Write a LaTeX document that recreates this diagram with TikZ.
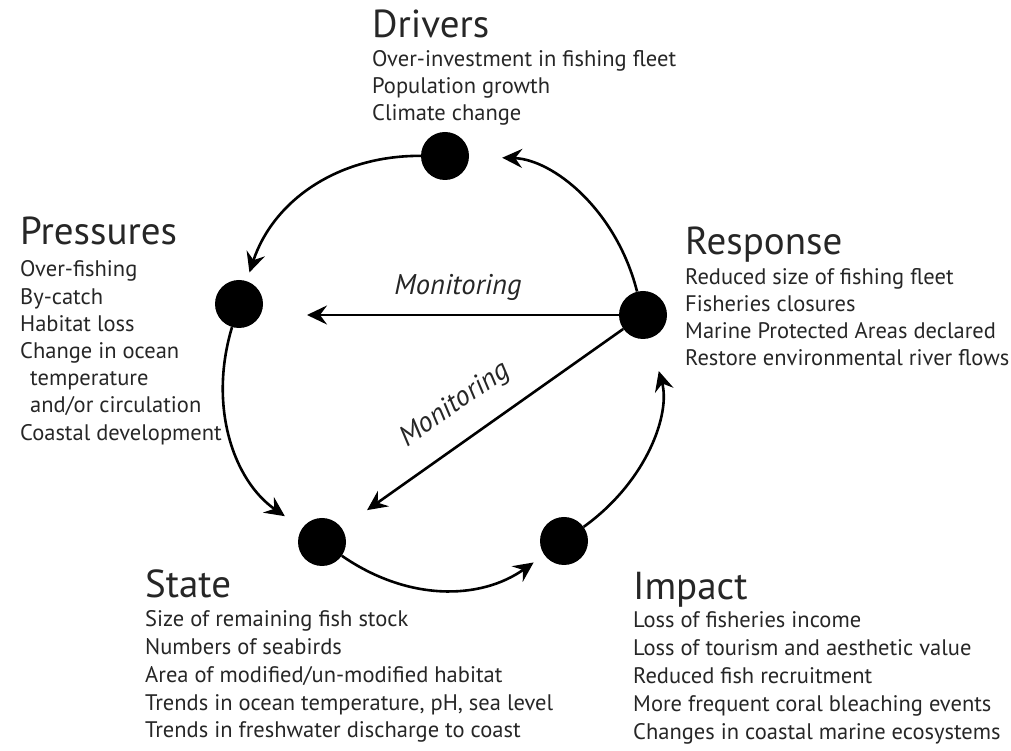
\documentclass[tikz,border=0pt]{standalone}
\usepackage{fontspec}
\setmainfont{PT Sans}
\usetikzlibrary{arrows.meta,positioning}

\begin{document}
\begin{tikzpicture}[
  x=1pt, y=1pt,
  >={Stealth[length=20pt,width=19pt,inset=7pt]},
  dot/.style={circle, fill=black, minimum size=48pt, inner sep=0pt},
  flow/.style={->, line width=2.6pt},
  ttl/.style={font=\fontsize{39}{41}\selectfont, text=black!85, anchor=base west, inner sep=0pt},
  item/.style={font=\fontsize{22.5}{26}\selectfont, text=black!85, anchor=base west, inner sep=0pt},
  lbl/.style={font=\fontsize{28.5}{32}\selectfont\itshape, text=black!85, inner sep=0pt}
]
  \useasboundingbox (0,0) rectangle (1011,751);

  % the five stages
  \node[dot] (drv) at (445,595) {};
  \node[dot] (prs) at (239,447) {};
  \node[dot] (rsp) at (643,436) {};
  \node[dot] (sta) at (322,209) {};
  \node[dot] (imp) at (564,210) {};

  % Drivers
  \node[ttl] (drv-t) at (372,713) {Drivers};
  \foreach \t [count=\i] in {Over-investment in fishing fleet, Population growth, Climate change}
    \node[item] (drv-\i) at (372,{684-27*(\i-1)}) {\t};

  % Pressures
  \node[ttl] (prs-t) at (20,506) {Pressures};
  \foreach \dx/\t [count=\i] in {0/Over-fishing, 0/By-catch, 0/Habitat loss, 0/Change in ocean,
      10/temperature, 10/{and/or circulation}, 0/Coastal development}
    \node[item] (prs-\i) at ({20+\dx},{474-27.2*(\i-1)}) {\t};

  % Response
  \node[ttl] (rsp-t) at (685,496) {Response};
  \foreach \t [count=\i] in {Reduced size of fishing fleet, Fisheries closures,
      Marine Protected Areas declared, Restore environmental river flows}
    \node[item] (rsp-\i) at (685,{466-26.7*(\i-1)}) {\t};

  % State
  \node[ttl] (sta-t) at (145,153) {State};
  \foreach \t [count=\i] in {Size of remaining fish stock, Numbers of seabirds,
      {Area of modified/un-modified habitat}, {Trends in ocean temperature, pH, sea level},
      Trends in freshwater discharge to coast}
    \node[item] (sta-\i) at (145,{124-27.7*(\i-1)}) {\t};

  % Impact
  \node[ttl] (imp-t) at (633,151) {Impact};
  \foreach \t [count=\i] in {Loss of fisheries income, Loss of tourism and aesthetic value,
      Reduced fish recruitment, More frequent coral bleaching events,
      Changes in coastal marine ecosystems}
    \node[item] (imp-\i) at (633,{123-28*(\i-1)}) {\t};

  % cycle
  \draw[flow, shorten >=9pt] (drv) to[bend right=36] (prs);
  \draw[flow, shorten >=21pt] (prs) to[bend right=36] (sta);
  \draw[flow, shorten >=13pt] (sta) to[bend right=35] (imp);
  \draw[flow, shorten >=34pt] (imp) to[bend right=35] (rsp);
  \draw[flow, shorten >=33pt] (rsp) to[bend right=37] (drv);

  % monitoring
  \coordinate (mon-end) at (307,436);
  \draw[flow] (rsp) -- (mon-end);
  \draw[flow, shorten >=31pt] (rsp) -- (sta);
  \node[lbl, anchor=base] (mon-h) at (458,456) {Monitoring};
  \node[lbl, rotate=35] (mon-d) at (455,346) {Monitoring};
\end{tikzpicture}
\end{document}
